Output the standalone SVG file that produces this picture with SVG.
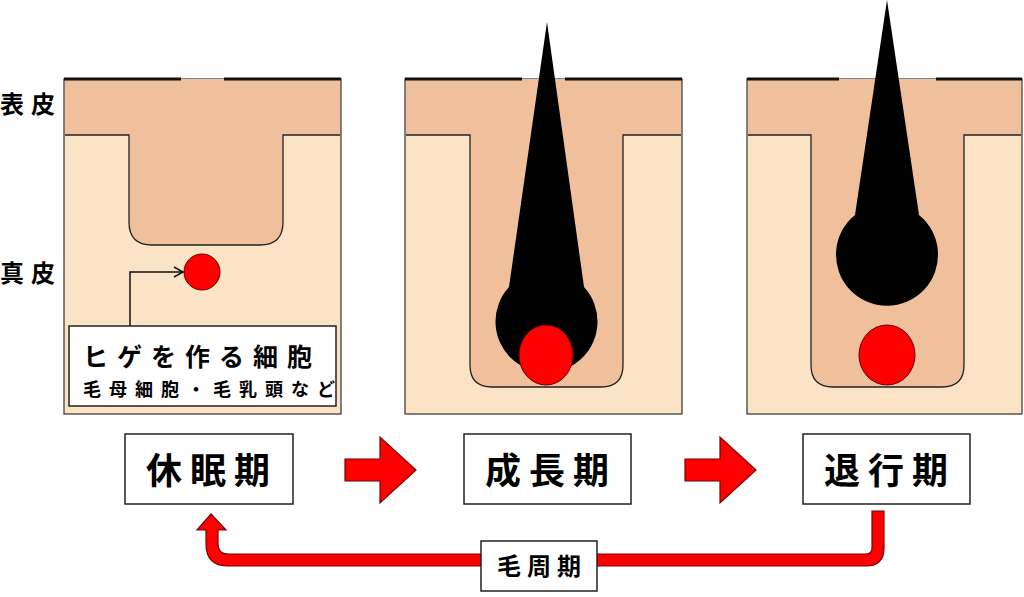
<svg xmlns="http://www.w3.org/2000/svg" width="1024" height="597" viewBox="0 0 1024 597">
<style>
.derm{fill:#fbe3c6;stroke:#333;stroke-width:1.2}
.epi{fill:#f0bf9b}
.fol{fill:#f0bf9b;stroke:#222;stroke-width:1.3}
.top{stroke:#111;stroke-width:3}
.red{fill:#ff0000;stroke:#600;stroke-width:1}
.box{fill:#fff;stroke:#222;stroke-width:1.5}
.t{font-family:"Noto Sans CJK JP","Noto Sans",sans-serif;fill:#000}
.arr{fill:#ff0000;stroke:#7a0000;stroke-width:1.2}
</style>
<rect width="1024" height="597" fill="#fff"/>
<g id="labels">
<text class="t" x="0" y="113" font-size="24" font-weight="bold" letter-spacing="7">表皮</text>
<text class="t" x="0" y="282" font-size="24" font-weight="bold" letter-spacing="7">真皮</text>
</g>
<g id="panel1">
<rect class="derm" x="64" y="79" width="277" height="335"/>
<rect class="epi" x="65" y="79" width="275" height="56"/>
<path class="fol" d="M65,135 H129 V222 Q129,245 152,245 H260 Q283,245 283,222 V135 H340" fill="none"/>
<rect class="epi" x="130" y="134" width="152" height="2"/>
<line class="top" x1="64" y1="79" x2="181" y2="79"/><line class="top" x1="224" y1="79" x2="341" y2="79"/>
<circle class="red" cx="202" cy="272" r="18"/>
<path d="M130,326 V272 H182" fill="none" stroke="#111" stroke-width="1.5"/>
<path d="M174,267 L183,272 L174,277" fill="none" stroke="#111" stroke-width="1.5"/>
<rect class="box" x="69" y="326" width="267" height="80"/>
<text class="t" x="83" y="366" font-size="25" font-weight="bold" letter-spacing="9">ヒゲを作る細胞</text>
<text class="t" x="83" y="396" font-size="18" font-weight="bold" letter-spacing="8">毛母細胞・毛乳頭など</text>
</g>
<g id="panel2">
<rect class="derm" x="405" y="79" width="277" height="335"/>
<rect class="epi" x="406" y="79" width="275" height="56"/>
<path class="fol" d="M406,135 H470 V365 Q470,387 492,387 H601 Q623,387 623,365 V135 H681"/>
<rect class="epi" x="471" y="134" width="151" height="2"/>
<line class="top" x1="405" y1="79" x2="522" y2="79"/><line class="top" x1="565" y1="79" x2="682" y2="79"/>
<path d="M547,22 L584,287 A51,51 0 1 1 509,287 Z" fill="#000"/>
<ellipse class="red" cx="546" cy="355" rx="27" ry="30"/>
</g>
<g id="panel3">
<rect class="derm" x="747" y="79" width="275" height="335"/>
<rect class="epi" x="748" y="79" width="273" height="56"/>
<path class="fol" d="M748,135 H811 V365 Q811,387 833,387 H942 Q964,387 964,365 V135 H1021"/>
<rect class="epi" x="812" y="134" width="151" height="2"/>
<line class="top" x1="747" y1="79" x2="839" y2="79"/><line class="top" x1="936" y1="79" x2="1022" y2="79"/>
<path d="M887,0 L919,215 A51,51 0 1 1 855,215 Z" fill="#000"/>
<ellipse class="red" cx="887" cy="355" rx="28" ry="30"/>
</g>
<g id="connectors">
<path class="arr" d="M345,459 H380 V437 L416,470 L380,503 V481 H345 Z"/>
<path class="arr" d="M685,459 H720 V437 L756,470 L720,503 V481 H685 Z"/>
<path class="arr" d="M872,511 H884 V548 Q884,566 866,566 H228 Q206,566 206,544 V530 H197 L211,514 L226,530 H218 V544 Q218,554 228,554 H866 Q872,554 872,548 Z"/>
</g>
<g id="stage1"><rect class="box" x="125" y="434" width="168" height="70"/><text class="t" x="212" y="484" font-size="36" font-weight="bold" text-anchor="middle" letter-spacing="8">休眠期</text></g>
<g id="stage2"><rect class="box" x="464" y="434" width="167" height="70"/><text class="t" x="551" y="484" font-size="36" font-weight="bold" text-anchor="middle" letter-spacing="8">成長期</text></g>
<g id="stage3"><rect class="box" x="803" y="434" width="167" height="70"/><text class="t" x="890" y="484" font-size="36" font-weight="bold" text-anchor="middle" letter-spacing="8">退行期</text></g>
<g id="cycle"><rect class="box" x="481" y="541" width="116" height="50"/><text class="t" x="542" y="575" font-size="24" font-weight="bold" text-anchor="middle" letter-spacing="6">毛周期</text></g>
</svg>
